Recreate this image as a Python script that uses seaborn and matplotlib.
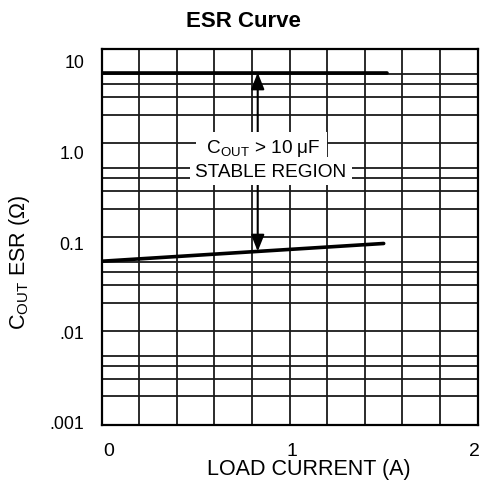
import numpy as np
import pandas as pd
import matplotlib
matplotlib.use("Agg")
import matplotlib.pyplot as plt
import matplotlib.transforms as mtrans
import seaborn as sns

# curve data
load_top = [0.0, 1.52]
esr_top = [5.6, 5.6]
load_bot = [0.0, 1.5]
esr_bot = [0.055, 0.085]

x_ticks = [0, 1, 2]
y_ticks = [0.001, 0.01, 0.1, 1, 10]
y_tick_labels = [".001", ".01", "0.1", "1.0", "10"]
# minor grid lines in each decade (as drawn on the chart)
minor_steps = [2, 3.07, 4.2, 5.4]
# shift of the tick labels against their grid lines, in points
y_label_shift = [-2.2, 0.5, 3.8, 6.0, 8.4]
x_label_shift = [4.7, 1.4, -2.0]

arrow_x = 0.83

sns.set_theme(style="white")
plt.rcParams["font.family"] = ["Liberation Sans", "DejaVu Sans"]
plt.rcParams["mathtext.fontset"] = "custom"
plt.rcParams["mathtext.rm"] = "Liberation Sans"
plt.rcParams["text.color"] = "black"
plt.rcParams["axes.labelcolor"] = "black"

df = pd.DataFrame({
    "load": load_top + load_bot,
    "esr": esr_top + esr_bot,
    "bound": ["upper"] * len(load_top) + ["lower"] * len(load_bot),
})

fig = plt.figure(figsize=(4.82, 4.89), dpi=100)
ax = fig.add_axes([0.211, 0.1294, 0.78, 0.7684])

sns.lineplot(data=df, x="load", y="esr", hue="bound", palette=["black", "black"],
             linewidth=2.6, legend=False, ax=ax, zorder=3)

ax.set_yscale("log")
ax.set_xlim(0, 2)
ax.set_ylim(0.001, 10)

minor = [d * s for d in y_ticks[:-1] for s in minor_steps]
ax.set_yticks(y_ticks)
ax.set_yticks(minor, minor=True)
ax.set_yticklabels(y_tick_labels)
ax.set_yticklabels([], minor=True)
ax.set_xticks(np.arange(0, 2.01, 0.2), minor=True)
ax.set_xticks(x_ticks)
ax.set_xticklabels([str(t) for t in x_ticks])
ax.grid(True, which="both", color="#1a1a1a", linewidth=1.3)
ax.set_axisbelow(True)
ax.tick_params(which="both", length=0, colors="black", pad=12.5)
ax.tick_params(axis="y", labelsize=12.8)
ax.tick_params(axis="x", labelsize=14)

for lab, dy in zip(ax.get_yticklabels(), y_label_shift):
    lab.set_transform(lab.get_transform() +
                      mtrans.ScaledTranslation(0, -dy / 72, fig.dpi_scale_trans))
for lab, dx in zip(ax.get_xticklabels(), x_label_shift):
    lab.set_transform(lab.get_transform() +
                      mtrans.ScaledTranslation(dx / 72, 0, fig.dpi_scale_trans))

for s in ax.spines.values():
    s.set_color("black")
    s.set_linewidth(1.6)

# arrows between the two curves
tip_bot = np.exp(np.interp(arrow_x, load_bot, np.log(esr_bot)))
tip_top = np.exp(np.interp(arrow_x, load_top, np.log(esr_top)))
arrow_kw = dict(arrowstyle="-|>,head_length=0.5,head_width=0.2", color="black",
                lw=1.5, mutation_scale=20, shrinkA=0, shrinkB=0)
ax.annotate("", xy=(arrow_x, tip_top), xytext=(arrow_x, 0.9), arrowprops=arrow_kw, zorder=4)
ax.annotate("", xy=(arrow_x, tip_bot), xytext=(arrow_x, 0.5), arrowprops=arrow_kw, zorder=4)

ax.text(0.851, 0.89, r" C$_\mathregular{OUT}$ > 10 μF ", ha="center", va="center",
        fontsize=13.7, zorder=5,
        bbox=dict(boxstyle="square,pad=0.28", fc="white", ec="none"))
ax.text(0.9, 0.50, "STABLE REGION", ha="center", va="center", fontsize=13.7, zorder=6,
        bbox=dict(boxstyle="square,pad=0.3", fc="white", ec="none"))

ax.set_xlabel("LOAD CURRENT (A)", fontsize=15.5)
ax.set_ylabel(r"C$_\mathregular{OUT}$ ESR (Ω)", fontsize=15.5)
ax.xaxis.set_label_coords(0.551, -0.089)
ax.yaxis.set_label_coords(-0.186, 0.436)

fig.suptitle("ESR Curve", x=0.505, y=0.957, va="center", fontsize=16, fontweight="bold")

fig.savefig("out.png", dpi=100)
